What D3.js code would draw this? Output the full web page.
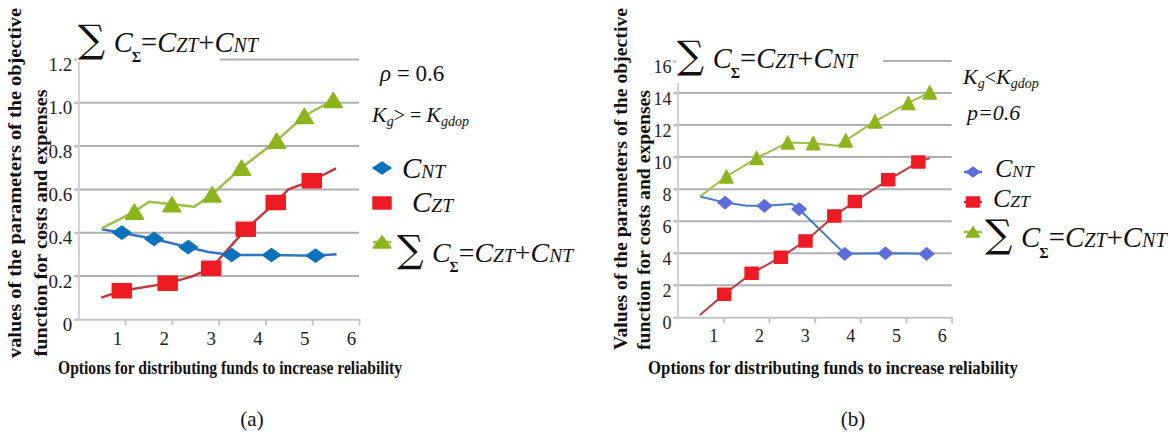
<!DOCTYPE html>
<html>
<head>
<meta charset="utf-8">
<script src="https://cdn.jsdelivr.net/npm/d3@7"></script>
<style>
  body { margin: 0; background: #fff; }
  svg { display: block; }
  svg text { font-family: 'Liberation Serif', 'Times New Roman', 'DejaVu Serif', serif; }
</style>
</head>
<body>
<svg id="fig" width="1170" height="436"></svg>
<script>
  // x values are option numbers (0..6), y values are chart units
  var optTicks = [1, 2, 3, 4, 5, 6];
  var yTicksA = [0, 0.2, 0.4, 0.6, 0.8, 1.0, 1.2];
  var yLabelsA = ['0', '0.2', '0.4', '0.6', '0.8', '1.0', '1.2'];
  var yTicksB = [0, 2, 4, 6, 8, 10, 12, 14, 16];
  var yLabelsB = ['0', '2', '4', '6', '8', '10', '12', '14', '16'];

  // panel (a)   m = 1 where a marker is drawn
  var aNtX = [0.50, 0.93, 1.62, 2.35, 2.78, 3.28, 4.13, 5.07, 5.52];
  var aNtY = [0.416, 0.400, 0.371, 0.333, 0.311, 0.297, 0.297, 0.294, 0.300];
  var aNtM = [0, 1, 1, 1, 0, 1, 1, 1, 0];
  var aZtX = [0.49, 0.93, 1.91, 2.42, 2.84, 3.58, 4.22, 4.49, 4.99, 5.51];
  var aZtY = [0.100, 0.132, 0.166, 0.197, 0.236, 0.416, 0.540, 0.600, 0.640, 0.697];
  var aZtM = [0, 1, 1, 0, 1, 1, 1, 0, 1, 0];
  var aSumX = [0.50, 1.20, 1.51, 2.00, 2.48, 2.86, 3.49, 4.24, 4.83, 5.45];
  var aSumY = [0.420, 0.497, 0.543, 0.531, 0.520, 0.577, 0.700, 0.825, 0.939, 1.013];
  var aSumM = [0, 1, 0, 1, 0, 1, 1, 1, 1, 1];

  // panel (b)
  var bNtX = [0.49, 1.04, 1.51, 1.90, 2.50, 2.66, 3.66, 4.55, 5.45, 5.60];
  var bNtY = [7.54, 7.16, 6.96, 6.96, 7.08, 6.75, 3.96, 4.00, 3.96, 3.96];
  var bNtM = [0, 1, 0, 1, 0, 1, 1, 1, 1, 0];
  var bZtX = [0.49, 1.02, 1.62, 2.26, 2.80, 3.43, 3.88, 4.61, 5.27, 5.52];
  var bZtY = [0.14, 1.44, 2.75, 3.75, 4.77, 6.33, 7.23, 8.58, 9.69, 9.94];
  var bZtM = [0, 1, 1, 1, 1, 1, 1, 1, 1, 0];
  var bSumX = [0.49, 1.07, 1.73, 2.41, 2.97, 3.50, 3.68, 4.32, 5.05, 5.52];
  var bSumY = [7.54, 8.79, 9.94, 10.91, 10.87, 10.71, 11.04, 12.23, 13.38, 14.04];
  var bSumM = [0, 1, 1, 1, 1, 0, 1, 1, 1, 1];

  var xTitle = 'Options for distributing funds to increase reliability';

  var svg = d3.select('#fig');
  var serif = "'Liberation Serif', 'Times New Roman', 'DejaVu Serif', serif";

  function zip(xs, ys, ms) {
    return xs.map(function(v, i) { return { x: v, y: ys[i], m: ms[i] }; });
  }

  function shape(type, w, h) {
    if (type === 'diamond') {
      return 'M0,' + (-h / 2) + 'L' + (w / 2) + ',0L0,' + (h / 2) + 'L' + (-w / 2) + ',0Z';
    }
    if (type === 'square') {
      return 'M' + (-w / 2) + ',' + (-h / 2) + 'h' + w + 'v' + h + 'h' + (-w) + 'Z';
    }
    return 'M0,' + (-h / 2) + 'L' + (w / 2) + ',' + (h / 2) + 'L' + (-w / 2) + ',' + (h / 2) + 'Z';
  }

  // sum C = C_ZT + C_NT
  function sumFormula(g, x, y, k) {
    var t = g.append('text')
      .attr('x', x).attr('y', y)
      .attr('font-family', serif)
      .attr('fill', '#111');
    t.append('tspan').attr('font-family', "'DejaVu Serif', serif")
      .attr('font-size', 40 * k).text('\u2211');
    t.append('tspan').attr('font-style', 'italic').attr('font-size', 30 * k)
      .attr('dx', 9 * k).text('C');
    t.append('tspan').attr('font-size', 15 * k).attr('font-weight', 'bold')
      .attr('dx', -1 * k).attr('dy', 11 * k).text('\u03A3');
    t.append('tspan').attr('font-size', 30 * k).attr('dy', -11 * k).text('=');
    t.append('tspan').attr('font-style', 'italic').attr('font-size', 30 * k).text('C');
    t.append('tspan').attr('font-style', 'italic').attr('font-size', 21 * k).text('ZT');
    t.append('tspan').attr('font-size', 30 * k).text('+');
    t.append('tspan').attr('font-style', 'italic').attr('font-size', 30 * k).text('C');
    t.append('tspan').attr('font-style', 'italic').attr('font-size', 21 * k).text('NT');
  }

  function cLabel(g, x, y, sub, size) {
    var t = g.append('text').attr('x', x).attr('y', y)
      .attr('font-family', serif).attr('fill', '#111');
    t.append('tspan').attr('font-style', 'italic').attr('font-size', size).text('C');
    t.append('tspan').attr('font-style', 'italic').attr('font-size', size * 0.67).text(sub);
  }

  function kLabel(g, x, y, op) {
    var t = g.append('text').attr('x', x).attr('y', y)
      .attr('font-family', serif).attr('fill', '#111');
    t.append('tspan').attr('font-style', 'italic').attr('font-size', 22).text('K');
    t.append('tspan').attr('font-style', 'italic').attr('font-size', 14).attr('dy', 4).text('g');
    t.append('tspan').attr('font-size', 20).attr('dy', -4).text(op);
    t.append('tspan').attr('font-style', 'italic').attr('font-size', 22).text('K');
    t.append('tspan').attr('font-style', 'italic').attr('font-size', 14).attr('dy', 4).text('gdop');
  }

  function drawPanel(p) {
    var x = d3.scaleLinear().domain([0, 6]).range([p.left, p.right]);
    var y = d3.scaleLinear().domain([0, p.ymax]).range([p.bottom, p.top]);
    var g = svg.append('g');

    // grid
    g.selectAll('line.grid')
      .data(p.yTicks.slice(1))
      .enter().append('line')
      .attr('class', 'grid')
      .attr('x1', p.left - 4).attr('x2', p.right)
      .attr('y1', y).attr('y2', y)
      .attr('stroke', '#b0b0b0').attr('stroke-width', 2);

    // axes
    var yAxis = d3.axisLeft(y)
      .tickValues(p.yTicks)
      .tickSize(4).tickPadding(2)
      .tickFormat(function(d, i) { return p.yLabels[i]; });
    var ya = g.append('g').attr('transform', 'translate(' + p.left + ',0)').call(yAxis)
      .attr('font-family', serif);
    ya.select('.domain').attr('stroke', '#cfcfcf').attr('stroke-width', 2);
    ya.selectAll('.tick line').attr('stroke', '#c4c4c4').attr('stroke-width', 2);
    ya.selectAll('.tick text')
      .attr('dy', 11)
      .attr('font-size', p.tickFont).attr('fill', '#222');

    var xAxis = d3.axisBottom(x)
      .tickValues(optTicks)
      .tickSize(6).tickSizeOuter(0).tickPadding(6)
      .tickFormat(d3.format('d'));
    var xa = g.append('g').attr('transform', 'translate(0,' + p.bottom + ')').call(xAxis)
      .attr('font-family', serif);
    xa.select('.domain').attr('stroke', '#c4c4c4').attr('stroke-width', 2);
    xa.selectAll('.tick line').attr('stroke', '#c4c4c4').attr('stroke-width', 2);
    xa.selectAll('.tick text')
      .attr('dx', p.labelShift)
      .attr('font-size', p.tickFont).attr('fill', '#222');

    // series
    var line = d3.line().x(function(d) { return x(d.x); }).y(function(d) { return y(d.y); });
    p.series.forEach(function(s) {
      g.append('path')
        .datum(s.pts)
        .attr('d', line)
        .attr('fill', 'none')
        .attr('stroke', s.line).attr('stroke-width', p.lineW)
        .attr('stroke-linejoin', 'round');
    });
    p.series.forEach(function(s) {
      g.selectAll(null)
        .data(s.pts.filter(function(d) { return d.m; }))
        .enter().append('path')
        .attr('transform', function(d) { return 'translate(' + x(d.x) + ',' + y(d.y) + ')'; })
        .attr('d', shape(s.shape, s.w, s.h))
        .attr('fill', s.color)
        .attr('stroke', s.color).attr('stroke-width', 1.5)
        .attr('stroke-linejoin', 'round');
    });

    // title formula over a white patch
    g.append('rect')
      .attr('x', p.cover[0]).attr('y', p.cover[1])
      .attr('width', p.cover[2]).attr('height', p.cover[3])
      .attr('fill', '#fff');
    sumFormula(g, p.title[0], p.title[1], p.title[2]);

    // legend
    p.series.forEach(function(s, i) {
      var ly = p.legend.ys[i];
      g.append('line')
        .attr('x1', p.legend.x - 9).attr('x2', p.legend.x + 9)
        .attr('y1', ly).attr('y2', ly)
        .attr('stroke', s.line).attr('stroke-width', 2.5);
      g.append('path')
        .attr('transform', 'translate(' + p.legend.x + ',' + ly + ')')
        .attr('d', shape(s.shape, p.legend.w, p.legend.h))
        .attr('fill', s.color).attr('stroke', s.color)
        .attr('stroke-width', 1.5).attr('stroke-linejoin', 'round');
    });
    cLabel(g, p.legend.tx[0], p.legend.ty[0], 'NT', p.legend.cSize);
    cLabel(g, p.legend.tx[1], p.legend.ty[1], 'ZT', p.legend.cSize);
    sumFormula(g, p.legend.tx[2], p.legend.ty[2], p.legend.k);

    // axis titles
    g.append('text')
      .attr('x', p.xTitle[0]).attr('y', p.xTitle[1])
      .attr('textLength', p.xTitle[2]).attr('lengthAdjust', 'spacingAndGlyphs')
      .attr('font-family', serif).attr('font-weight', 'bold').attr('font-size', 19)
      .attr('fill', '#111')
      .text(xTitle);
    p.yTitle.forEach(function(t) {
      g.append('text')
        .attr('transform', 'translate(' + t.x + ',' + t.y + ') rotate(-90)')
        .attr('text-anchor', 'middle')
        .attr('textLength', t.len).attr('lengthAdjust', 'spacingAndGlyphs')
        .attr('font-family', serif).attr('font-weight', 'bold').attr('font-size', 18)
        .attr('fill', '#111')
        .text(t.text);
    });

    g.append('text')
      .attr('x', p.caption[0]).attr('y', p.caption[1])
      .attr('text-anchor', 'middle')
      .attr('font-family', serif).attr('font-size', 21).attr('fill', '#111')
      .text(p.caption[2]);

    return g;
  }

  var ga = drawPanel({
    left: 78.3, right: 359, top: 59.5, bottom: 319.3, ymax: 1.2,
    yTicks: yTicksA, yLabels: yLabelsA, tickFont: 19, labelShift: -8, lineW: 2.5,
    series: [
      { pts: zip(aNtX, aNtY, aNtM), shape: 'diamond', w: 18, h: 13, color: '#0b72bd', line: '#3474c2' },
      { pts: zip(aZtX, aZtY, aZtM), shape: 'square', w: 19, h: 14, color: '#ed1c24', line: '#c0393e' },
      { pts: zip(aSumX, aSumY, aSumM), shape: 'tri', w: 18, h: 15, color: '#8cb51d', line: '#9bc047' }
    ],
    cover: [77, 0, 143, 61],
    title: [78, 52, 0.95],
    legend: { x: 382, ys: [168, 203, 242], w: 18, h: 12, tx: [402, 412, 397], ty: [178, 212, 262], k: 0.93, cSize: 29 },
    xTitle: [58, 374, 344],
    yTitle: [
      { x: 21, y: 183, len: 350, text: 'values of the parameters of the objective' },
      { x: 47, y: 223, len: 267, text: 'function for costs and expenses' }
    ],
    caption: [252, 426, '(a)']
  });
  var rho = ga.append('text')
    .attr('x', 380).attr('y', 81)
    .attr('font-family', serif).attr('font-size', 23).attr('fill', '#111');
  rho.append('tspan').attr('font-style', 'italic').text('\u03C1');
  rho.append('tspan').text(' = 0.6');
  kLabel(ga, 372, 122, '> = ');

  var gb = drawPanel({
    left: 677.6, right: 951.7, top: 61, bottom: 317.3, ymax: 16,
    yTicks: yTicksB, yLabels: yLabelsB, tickFont: 18, labelShift: -10, lineW: 2,
    series: [
      { pts: zip(bNtX, bNtY, bNtM), shape: 'diamond', w: 14, h: 12, color: '#5f6cdc', line: '#3f7cc8' },
      { pts: zip(bZtX, bZtY, bZtM), shape: 'square', w: 13, h: 12, color: '#ed1c24', line: '#c0393e' },
      { pts: zip(bSumX, bSumY, bSumM), shape: 'tri', w: 13, h: 13, color: '#8cb51d', line: '#9bc047' }
    ],
    cover: [676, 25, 207, 58],
    title: [677, 68, 0.95],
    legend: { x: 973, ys: [172, 202, 232], w: 13, h: 10, tx: [995, 993, 985], ty: [177, 207, 247], k: 0.96, cSize: 26 },
    xTitle: [648, 374, 370],
    yTitle: [
      { x: 627, y: 179, len: 342, text: 'Values of the parameters of the objective' },
      { x: 650, y: 220, len: 260, text: 'function for costs and expenses' }
    ],
    caption: [853, 426, '(b)']
  });
  kLabel(gb, 963, 84, '<');
  gb.append('text')
    .attr('x', 967).attr('y', 120)
    .attr('font-family', serif).attr('font-style', 'italic').attr('font-size', 22).attr('fill', '#111')
    .text('p=0.6');
</script>
</body>
</html>
